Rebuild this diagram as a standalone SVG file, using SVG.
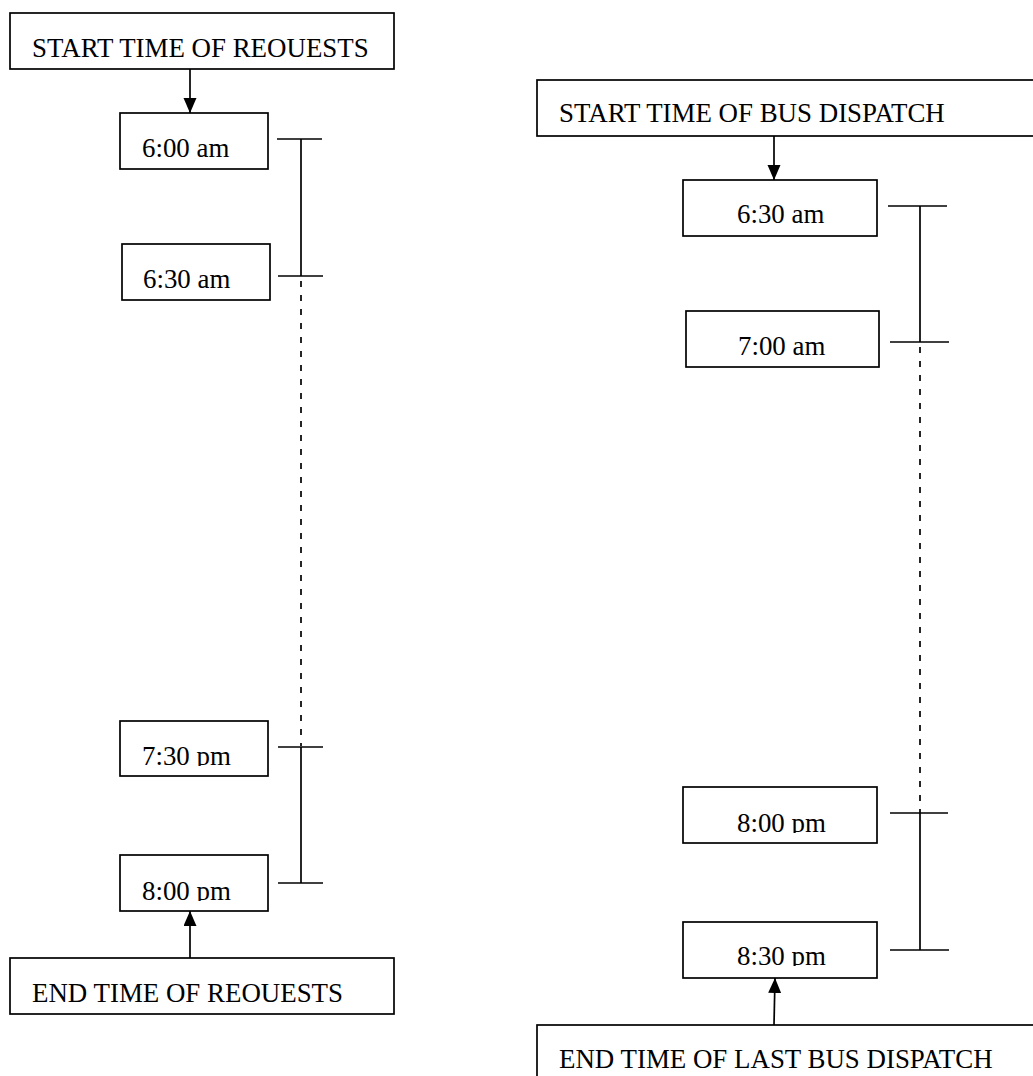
<svg xmlns="http://www.w3.org/2000/svg" width="1033" height="1076" viewBox="0 0 1033 1076">
<style>
  .box { fill: #fff; stroke: #000; stroke-width: 1.7; }
  .t { font-family: "Liberation Serif", "Times New Roman", serif; font-size: 26.9px; fill: #000; }
  .ln { stroke: #000; stroke-width: 1.7; fill: none; }
  .dash { stroke: #000; stroke-width: 1.7; fill: none; stroke-dasharray: 6 8; }
  .arr { stroke: #000; stroke-width: 1.7; fill: none; marker-end: url(#ah); }
</style>
<defs>
  <marker id="ah" markerUnits="userSpaceOnUse" markerWidth="16" markerHeight="14" refX="15" refY="6.5" orient="auto">
    <path d="M0,0 L15,6.5 L0,13 z" fill="#000"/>
  </marker>
  <clipPath id="c730"><rect x="120" y="721" width="148" height="45"/></clipPath>
  <clipPath id="c800l"><rect x="120" y="855" width="148" height="46"/></clipPath>
  <clipPath id="c800r"><rect x="683" y="787" width="194" height="46"/></clipPath>
  <clipPath id="c830r"><rect x="683" y="922" width="194" height="44"/></clipPath>
</defs>
<rect width="1033" height="1076" fill="#fff"/>

<g id="connectors">
  <!-- left column -->
  <line class="arr" x1="190" y1="69" x2="190" y2="113"/>
  <line class="arr" x1="190" y1="958" x2="190" y2="911"/>
  <line class="ln" x1="277" y1="139" x2="322" y2="139"/>
  <line class="ln" x1="301" y1="139" x2="301" y2="276"/>
  <line class="ln" x1="278" y1="276" x2="323" y2="276"/>
  <line class="dash" x1="301" y1="281" x2="301" y2="746"/>
  <line class="ln" x1="278" y1="747" x2="323" y2="747"/>
  <line class="ln" x1="301" y1="747" x2="301" y2="883"/>
  <line class="ln" x1="278" y1="883" x2="323" y2="883"/>
  <!-- right column -->
  <line class="arr" x1="774" y1="136" x2="774" y2="180"/>
  <line class="arr" x1="774" y1="1025" x2="775" y2="978"/>
  <line class="ln" x1="888" y1="206" x2="947" y2="206"/>
  <line class="ln" x1="920" y1="206" x2="920" y2="342"/>
  <line class="ln" x1="890" y1="342" x2="949" y2="342"/>
  <line class="dash" x1="920" y1="347" x2="920" y2="813"/>
  <line class="ln" x1="890" y1="813" x2="948" y2="813"/>
  <line class="ln" x1="920" y1="813" x2="920" y2="950"/>
  <line class="ln" x1="890" y1="950" x2="949" y2="950"/>
</g>

<g id="start-requests">
  <rect class="box" x="10" y="13" width="384" height="56"/>
  <text class="t" x="32" y="57">START TIME OF REOUESTS</text>
</g>
<g id="req-600am">
  <rect class="box" x="120" y="113" width="148" height="56"/>
  <text class="t" x="142" y="157">6:00 am</text>
</g>
<g id="req-630am">
  <rect class="box" x="122" y="244" width="148" height="56"/>
  <text class="t" x="143" y="288">6:30 am</text>
</g>
<g id="req-730pm">
  <rect class="box" x="120" y="721" width="148" height="55"/>
  <text class="t" x="142" y="765" clip-path="url(#c730)">7:30 pm</text>
</g>
<g id="req-800pm">
  <rect class="box" x="120" y="855" width="148" height="56"/>
  <text class="t" x="142" y="900" clip-path="url(#c800l)">8:00 pm</text>
</g>
<g id="end-requests">
  <rect class="box" x="10" y="958" width="384" height="56"/>
  <text class="t" x="32" y="1002">END TIME OF REOUESTS</text>
</g>

<g id="start-dispatch">
  <rect class="box" x="537" y="80" width="510" height="56"/>
  <text class="t" x="559" y="122">START TIME OF BUS DISPATCH</text>
</g>
<g id="bus-630am">
  <rect class="box" x="683" y="180" width="194" height="56"/>
  <text class="t" x="737" y="223">6:30 am</text>
</g>
<g id="bus-700am">
  <rect class="box" x="686" y="311" width="193" height="56"/>
  <text class="t" x="738" y="355">7:00 am</text>
</g>
<g id="bus-800pm">
  <rect class="box" x="683" y="787" width="194" height="56"/>
  <text class="t" x="737" y="832" clip-path="url(#c800r)">8:00 pm</text>
</g>
<g id="bus-830pm">
  <rect class="box" x="683" y="922" width="194" height="56"/>
  <text class="t" x="737" y="965" clip-path="url(#c830r)">8:30 pm</text>
</g>
<g id="end-dispatch">
  <rect class="box" x="537" y="1025" width="510" height="80"/>
  <text class="t" x="559" y="1068">END TIME OF LAST BUS DISPATCH</text>
</g>
</svg>
